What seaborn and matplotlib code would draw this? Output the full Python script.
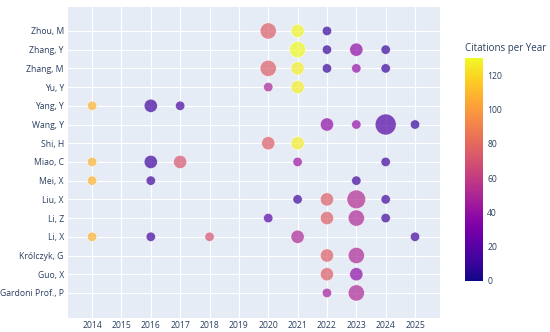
import pandas as pd
import matplotlib
matplotlib.use("Agg")
import matplotlib.pyplot as plt
import seaborn as sns

# ======================================================
# DATA
# ======================================================
AUTHORS = [
    "Zhou, M", "Zhang, Y", "Zhang, M", "Yu, Y", "Yang, Y", "Wang, Y", "Shi, H",
    "Miao, C", "Mei, X", "Liu, X", "Li, Z", "Li, X", "Królczyk, G", "Guo, X",
    "Gardoni Prof., P",
]
YEARS = list(range(2014, 2026))

point_author = (
    ["Zhou, M"] * 3 + ["Zhang, Y"] * 4 + ["Zhang, M"] * 5 + ["Yu, Y"] * 2
    + ["Yang, Y"] * 3 + ["Wang, Y"] * 4 + ["Shi, H"] * 2 + ["Miao, C"] * 5
    + ["Mei, X"] * 3 + ["Liu, X"] * 4 + ["Li, Z"] * 4 + ["Li, X"] * 5
    + ["Królczyk, G"] * 2 + ["Guo, X"] * 2 + ["Gardoni Prof., P"] * 2
)
point_year = [
    2020, 2021, 2022,
    2021, 2022, 2023, 2024,
    2020, 2021, 2022, 2023, 2024,
    2020, 2021,
    2014, 2016, 2017,
    2022, 2023, 2024, 2025,
    2020, 2021,
    2014, 2016, 2017, 2021, 2024,
    2014, 2016, 2023,
    2021, 2022, 2023, 2024,
    2020, 2022, 2023, 2024,
    2014, 2016, 2018, 2021, 2025,
    2022, 2023,
    2022, 2023,
    2022, 2023,
]
point_papers = [
    3, 2, 1,
    3, 1, 2, 1,
    3, 2, 1, 1, 1,
    1, 2,
    1, 2, 1,
    2, 1, 5, 1,
    2, 2,
    1, 2, 2, 1, 1,
    1, 1, 1,
    1, 2, 4, 1,
    1, 2, 3, 1,
    1, 1, 1, 2, 1,
    2, 3,
    2, 2,
    1, 3,
]
point_cpy = [
    75, 128, 10,
    130, 10, 38, 10,
    75, 126, 10, 40, 10,
    48, 126,
    108, 12, 14,
    38, 40, 18, 10,
    75, 126,
    108, 12, 72, 42, 12,
    108, 12, 12,
    12, 75, 52, 12,
    20, 75, 50, 12,
    108, 12, 70, 50, 12,
    75, 50,
    75, 38,
    45, 50,
]

CB_MAX = 130
TEXT_COLOR = "#2a3f5f"
BG_COLOR = "#E5ECF6"

# ======================================================
# PLOT
# ======================================================
df = pd.DataFrame({
    "Author": point_author,
    "Year": point_year,
    "Papers": point_papers,
    "Citations per Year": point_cpy,
})
df["Row"] = df["Author"].map({a: i for i, a in enumerate(AUTHORS)})

sns.set_style("darkgrid", {"axes.facecolor": BG_COLOR, "grid.color": "white"})
plt.rcParams["font.family"] = ["Open Sans", "DejaVu Sans"]

fig = plt.figure(figsize=(5.5, 3.32), dpi=100)
ax = fig.add_axes([68 / 550, 1 - 318 / 332, 372 / 550, 311 / 332])

sns.scatterplot(
    data=df,
    x="Year",
    y="Row",
    hue="Citations per Year",
    size="Papers",
    palette="plasma",
    hue_norm=(0, CB_MAX),
    sizes=(45.8, 229),
    size_norm=(1, 5),
    alpha=0.7,
    edgecolor="white",
    linewidth=0.5,
    legend=False,
    ax=ax,
)

ax.set_xlim(2013.18, 2025.85)
ax.set_ylim(len(AUTHORS) - 1 + 1.34, -1.28)
ax.set_xticks(YEARS)
ax.set_xticklabels([str(y) for y in YEARS])
ax.set_yticks(range(len(AUTHORS)))
ax.set_yticklabels(AUTHORS)
ax.set_xlabel("")
ax.set_ylabel("")
ax.tick_params(axis="both", labelsize=6.2, colors=TEXT_COLOR, length=0)
ax.tick_params(axis="x", pad=2)
ax.tick_params(axis="y", pad=3)
ax.grid(True, color="white", linewidth=0.8)
for s in ax.spines.values():
    s.set_visible(False)

# ---- COLORBAR ----
cax = fig.add_axes([465 / 550, 1 - 281 / 332, 18 / 550, 223 / 332])
sm = plt.cm.ScalarMappable(cmap="plasma", norm=plt.Normalize(0, CB_MAX))
cb = fig.colorbar(sm, cax=cax)
cb.outline.set_visible(False)
cb.set_ticks(range(0, 121, 20))
cax.tick_params(labelsize=6.2, colors=TEXT_COLOR, length=0, pad=3)
fig.text(465 / 550, 1 - 49 / 332, "Citations per Year", fontsize=7,
         color=TEXT_COLOR, ha="left", va="center")

fig.savefig("out.png", dpi=100)
